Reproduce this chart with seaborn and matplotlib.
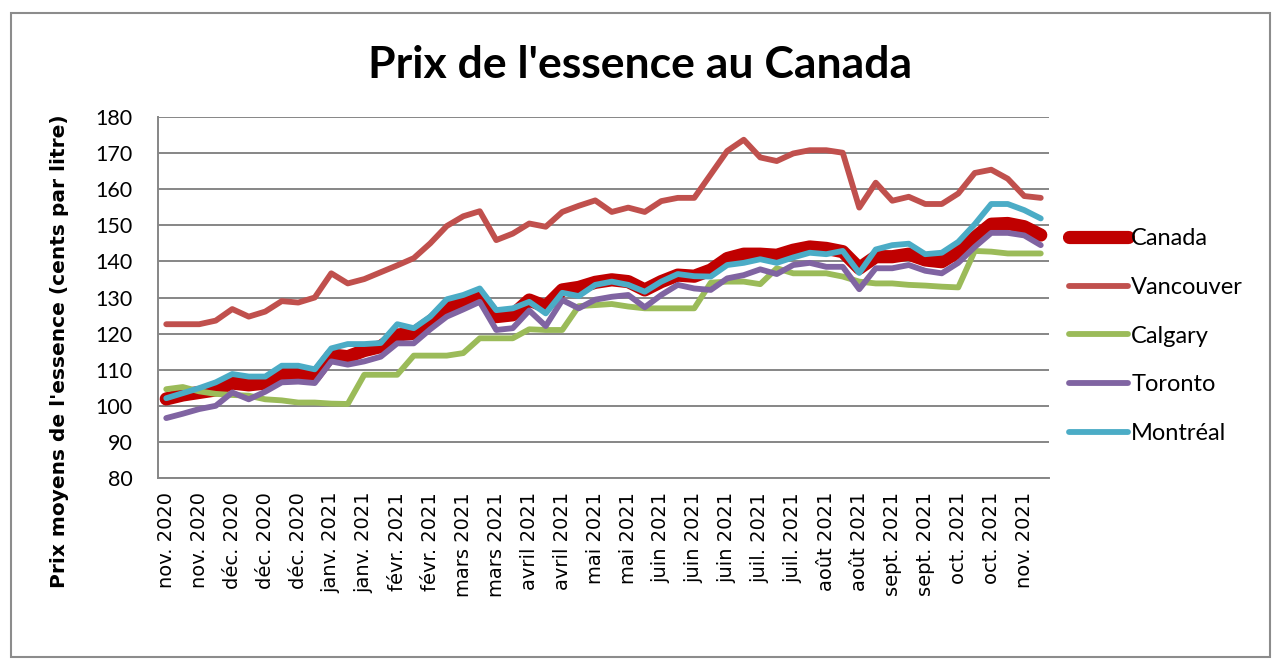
import numpy as np
import pandas as pd
import matplotlib
matplotlib.use("Agg")
import matplotlib.pyplot as plt
from matplotlib.patches import Rectangle
import seaborn as sns

# prix hebdomadaires moyens (cents par litre), nov. 2020 -> nov. 2021
canada = [101.9, 103.0, 103.7, 104.4, 106.3, 105.8, 106.3, 108.8, 108.8, 108.1,
          114.1, 113.6, 115.3, 116.4, 119.6, 120.1, 123.3, 127.0, 128.6, 130.4,
          124.7, 125.2, 129.3, 127.5, 132.1, 132.8, 134.2, 134.9, 134.4, 132.1,
          134.4, 136.2, 135.9, 137.6, 140.8, 142.0, 142.0, 141.7, 143.1, 144.0,
          143.6, 142.7, 138.1, 141.3, 141.3, 142.0, 140.4, 139.9, 142.7, 146.6,
          150.3, 150.5, 149.6, 147.3]
vancouver = [122.6, 122.6, 122.6, 123.6, 126.8, 124.7, 126.1, 129.0, 128.6, 130.0,
             136.7, 133.9, 135.1, 137.0, 138.9, 140.9, 145.0, 149.8, 152.5, 153.9,
             145.9, 147.7, 150.5, 149.6, 153.7, 155.4, 156.9, 153.7, 154.9, 153.7,
             156.7, 157.6, 157.6, 164.1, 170.6, 173.7, 168.8, 167.8, 169.9, 170.8,
             170.8, 170.1, 154.9, 161.8, 156.8, 157.9, 155.9, 155.9, 158.8, 164.5,
             165.4, 162.9, 158.1, 157.6]
calgary = [104.6, 105.2, 104.0, 103.3, 103.0, 102.8, 101.8, 101.5, 100.9, 100.9,
           100.6, 100.5, 108.6, 108.6, 108.6, 113.9, 113.9, 113.9, 114.6, 118.7,
           118.7, 118.7, 121.2, 121.0, 121.0, 127.6, 127.9, 128.2, 127.5, 127.0,
           127.0, 127.0, 127.0, 134.1, 134.4, 134.4, 133.7, 138.1, 136.7, 136.7,
           136.7, 135.8, 134.4, 133.9, 133.9, 133.5, 133.3, 133.0, 132.8, 142.9,
           142.7, 142.2, 142.2, 142.2]
toronto = [96.6, 97.8, 99.1, 100.0, 103.7, 101.8, 103.9, 106.5, 106.7, 106.3,
           112.3, 111.4, 112.3, 113.6, 117.3, 117.3, 121.2, 124.7, 126.7, 128.8,
           121.0, 121.5, 126.4, 122.1, 129.3, 127.0, 129.4, 130.2, 130.7, 127.3,
           130.7, 133.5, 132.5, 132.1, 135.3, 136.2, 137.8, 136.5, 139.0, 139.6,
           138.5, 138.5, 132.3, 138.1, 138.1, 139.0, 137.4, 136.7, 139.6, 144.0,
           147.9, 147.9, 147.2, 144.5]
montreal = [102.1, 103.5, 104.9, 106.5, 108.8, 108.1, 108.1, 111.1, 111.1, 110.1,
            115.9, 117.1, 117.1, 117.4, 122.6, 121.5, 124.7, 129.5, 130.7, 132.5,
            126.5, 127.0, 128.8, 125.6, 131.3, 130.4, 133.5, 134.4, 133.5, 131.6,
            134.4, 136.5, 135.9, 135.8, 139.0, 139.6, 140.6, 139.6, 141.1, 142.4,
            142.0, 142.9, 136.8, 143.3, 144.5, 144.9, 142.0, 142.4, 145.4, 150.3,
            155.9, 155.9, 154.2, 151.9]

tick_labels = ["nov. 2020", "nov. 2020", "déc. 2020", "déc. 2020", "déc. 2020",
               "janv. 2021", "janv. 2021", "févr. 2021", "févr. 2021", "mars 2021",
               "mars 2021", "avril 2021", "avril 2021", "mai 2021", "mai 2021",
               "juin 2021", "juin 2021", "juin 2021", "juil. 2021", "juil. 2021",
               "août 2021", "août 2021", "sept. 2021", "sept. 2021", "oct. 2021",
               "oct. 2021", "nov. 2021"]

villes = ["Canada", "Vancouver", "Calgary", "Toronto", "Montréal"]
couleurs = ["#C00000", "#C0504D", "#9BBB59", "#8064A2", "#4BACC6"]
epaisseurs = [9.5, 4.2, 4.2, 4.2, 4.2]

df = pd.DataFrame({"Canada": canada, "Vancouver": vancouver, "Calgary": calgary,
                   "Toronto": toronto, "Montréal": montreal})
df["semaine"] = np.arange(len(df))
long = df.melt(id_vars="semaine", var_name="ville", value_name="prix")

sns.set_style("white")
plt.rcParams["font.family"] = ["Lato", "DejaVu Sans"]
plt.rcParams["text.color"] = "black"
plt.rcParams["axes.labelcolor"] = "black"
plt.rcParams["xtick.labelcolor"] = "black"
plt.rcParams["ytick.labelcolor"] = "black"

fig = plt.figure(figsize=(12.8, 6.66), dpi=100)
ax = fig.add_axes([158 / 1280, 1 - 478 / 666, 891 / 1280, 361 / 666])

for ville, c, lw in zip(villes, couleurs, epaisseurs):
    sns.lineplot(data=long[long["ville"] == ville], x="semaine", y="prix",
                 color=c, linewidth=lw, ax=ax, label=ville,
                 solid_capstyle="round", solid_joinstyle="round")

n = len(df)
ax.set_xlim(-0.5, n - 0.5)
ax.set_ylim(80, 180)
ax.set_yticks(range(80, 181, 10))
ax.set_xticks(np.arange(0, n, 2))
ax.set_xticklabels(tick_labels, rotation=90, fontsize=14, family="DejaVu Sans")
ax.set_xticks(np.arange(-0.5, n, 1), minor=True)
ax.tick_params(axis="x", which="major", length=0, pad=10)
ax.tick_params(axis="x", which="minor", length=6, width=1.2, color="#868686")
ax.tick_params(axis="y", length=6.5, width=1.2, color="#868686", labelsize=15.5, pad=12)
ax.grid(axis="y", color="#868686", linewidth=1.4)
ax.set_axisbelow(True)
for s in ["top", "right"]:
    ax.spines[s].set_visible(False)
for s in ["left", "bottom"]:
    ax.spines[s].set_color("#868686")
    ax.spines[s].set_linewidth(1.4)

ax.set_xlabel("")
ax.set_ylabel("Prix moyens de l'essence (cents par litre)", fontsize=14.5,
              fontweight="bold", family="DejaVu Sans")
ax.yaxis.set_label_coords(-0.1, 0.35)

fig.suptitle("Prix de l'essence au Canada", x=0.5, y=1 - 65 / 666, va="center",
             fontsize=32, fontweight="bold")

handles, labels = ax.get_legend_handles_labels()
ax.get_legend().remove()
fig.legend(handles, labels, loc="upper left", bbox_to_anchor=(1060 / 1280, 1 - 219 / 666),
           frameon=False, fontsize=17, handlelength=2.5, handletextpad=0.12,
           labelspacing=1.17, borderaxespad=0)

fig.patches.append(Rectangle((11 / 1280, 1 - 657 / 666), 1259 / 1280, 644 / 666,
                             transform=fig.transFigure, fill=False,
                             edgecolor="#8c8c8c", linewidth=1.5))

fig.savefig("out.png", dpi=100)
